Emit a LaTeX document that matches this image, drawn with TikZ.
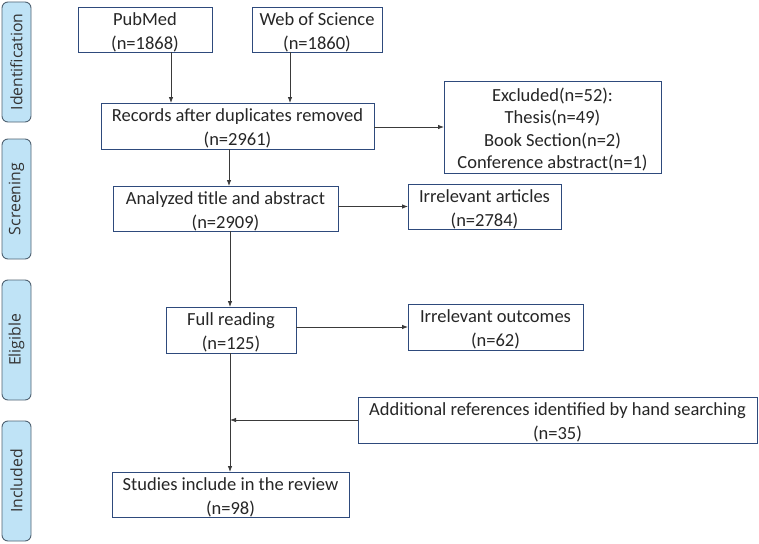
\documentclass[tikz,border=0pt]{standalone}
\usepackage{fontspec}
\setmainfont{Carlito}
\newfontfamily\sidefont{Open Sans}
\usetikzlibrary{arrows.meta}
\definecolor{boxline}{HTML}{2E4A7C}
\definecolor{sidefill}{HTML}{BFE3F6}
\definecolor{sideline}{HTML}{4F6272}
\definecolor{arrline}{HTML}{3A3A3A}
\begin{document}
\begin{tikzpicture}[x=1pt,y=-1pt,
  flowbox/.style={draw=boxline,line width=0.9pt,fill=white,inner sep=0pt,outer sep=0pt},
  boxtext/.style={align=center,font=\fontsize{18.5}{24}\selectfont,text=black!85,yshift=-2.5pt,inner sep=0pt},
  sidebox/.style={draw=sideline,line width=0.9pt,fill=sidefill,rounded corners=6pt,
    minimum width=120pt,minimum height=29pt,inner sep=0pt,rotate=90,
    font=\sidefont\fontsize{15.8}{18}\selectfont,text=black!80},
  arr/.style={draw=arrline,line width=0.8pt,-{Latex[length=6pt,width=4.5pt]}}]
\useasboundingbox (0,0) rectangle (759,543);
% side labels
\node[sidebox] (sid) at (16.5,62) {Identification};
\node[sidebox] (sscr) at (16.5,199) {Screening};
\node[sidebox] (selg) at (16.5,340) {Eligible};
\node[sidebox] (sinc) at (16.5,481) {Included};
% boxes
\node[flowbox,minimum width=134pt,minimum height=45pt,label={[boxtext]center:PubMed\\(n=1868)}] (pub) at (145,29.5) {};
\node[flowbox,minimum width=130pt,minimum height=45pt,label={[boxtext]center:Web of Science\\(n=1860)}] (wos) at (317,29.5) {};
\node[flowbox,minimum width=273pt,minimum height=46pt,label={[boxtext]center:Records after duplicates removed\\(n=2961)}] (rec) at (237.5,126) {};
\node[flowbox,minimum width=217pt,minimum height=92pt,label={[boxtext,font=\fontsize{18.5}{22.5}\selectfont]center:Excluded(n=52):\\Thesis(n=49)\\Book Section(n=2)\\Conference abstract(n=1)}] (exc) at (552.5,127) {};
\node[flowbox,minimum width=225pt,minimum height=45pt,label={[boxtext]center:Analyzed title and abstract\\(n=2909)}] (ana) at (225.5,208.5) {};
\node[flowbox,minimum width=153pt,minimum height=45pt,label={[boxtext]center:Irrelevant articles\\(n=2784)}] (irra) at (484.5,206.5) {};
\node[flowbox,minimum width=130pt,minimum height=46pt,label={[boxtext]center:Full reading\\(n=125)}] (full) at (231,330) {};
\node[flowbox,minimum width=175pt,minimum height=46pt,label={[boxtext]center:Irrelevant outcomes\\(n=62)}] (irro) at (495.5,327) {};
\node[flowbox,minimum width=399pt,minimum height=46pt,label={[boxtext]center:Additional references identified by hand searching\\(n=35)}] (add) at (557.5,420) {};
\node[flowbox,minimum width=237pt,minimum height=45pt,label={[boxtext]center:Studies include in the review\\(n=98)}] (stu) at (230.5,494.5) {};
% connectors
\draw[arr] ([xshift=26pt]pub.south) -- ([xshift=26pt]pub.south |- rec.north);
\draw[arr] ([xshift=-27pt]wos.south) -- ([xshift=-27pt]wos.south |- rec.north);
\draw[arr] (rec.east |- exc.west) -- (exc.west);
\draw[arr] ([xshift=-8.5pt]rec.south) -- ([xshift=-8.5pt]rec.south |- ana.north);
\draw[arr] (ana.east |- irra.west) -- (irra.west);
\draw[arr] ([xshift=4.5pt]ana.south) -- ([xshift=4.5pt]ana.south |- full.north);
\draw[arr] (full.east |- irro.west) -- (irro.west);
\draw[arr] ([xshift=-1pt]full.south) -- ([xshift=-1pt]full.south |- stu.north);
\coordinate (join) at ([xshift=-1pt]full.south |- add.west);
\draw[arr] (add.west) -- (join);
\end{tikzpicture}
\end{document}
